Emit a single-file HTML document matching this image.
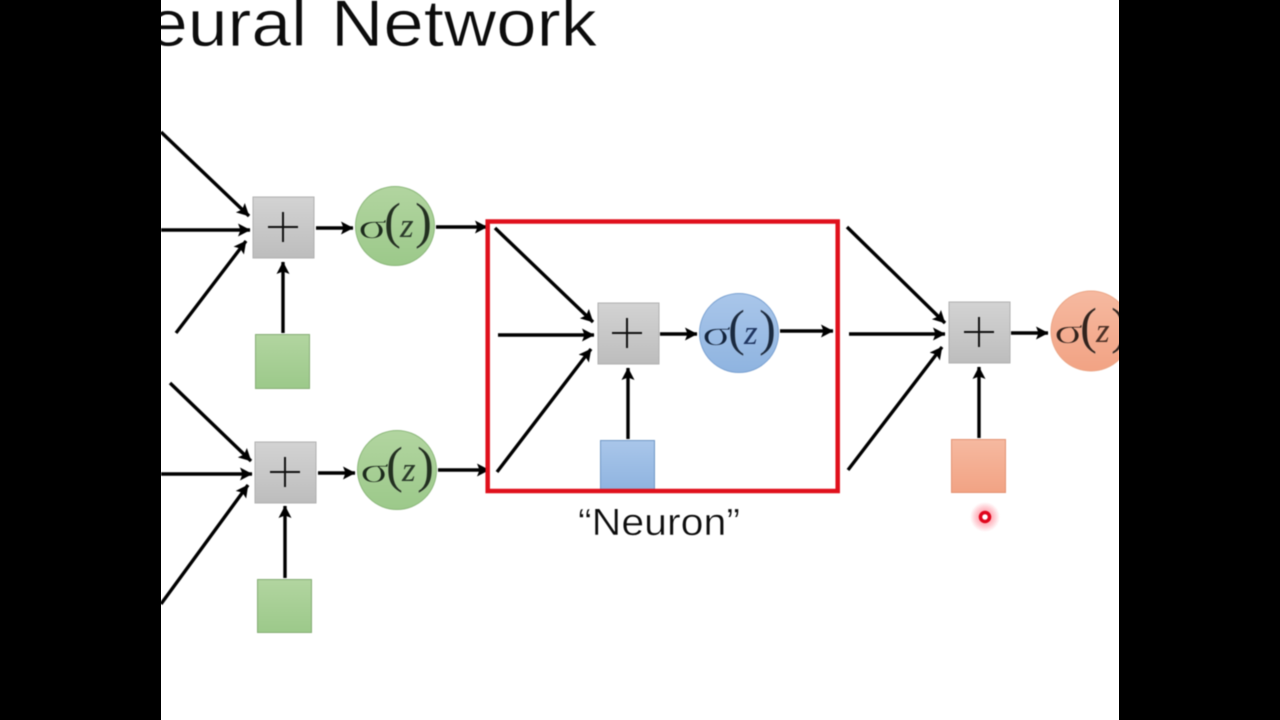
<!DOCTYPE html>
<html>
<head>
<meta charset="utf-8">
<style>
html,body{margin:0;padding:0;background:#000;width:1280px;height:720px;overflow:hidden}
svg{display:block}
.sig{font-family:"Liberation Serif",serif;font-size:36px;fill:#1c2a1c;stroke:#a8d096;stroke-width:.7}
.par{font-family:"Liberation Serif",serif;font-size:51px;fill:#22301f;stroke:#fff;stroke-opacity:.25;stroke-width:.4}
.z{font-family:"Liberation Serif",serif;font-size:35px;font-style:italic;fill:#2a3a2a}
.soft{filter:blur(.4px)}
</style>
</head>
<body>
<svg width="1280" height="720" viewBox="0 0 1280 720" xmlns="http://www.w3.org/2000/svg">
<defs>
<linearGradient id="gray" x1="0" y1="0" x2="0" y2="1"><stop offset="0" stop-color="#d3d3d3"/><stop offset="1" stop-color="#bdbdbd"/></linearGradient>
<linearGradient id="green" x1="0" y1="0" x2="0" y2="1"><stop offset="0" stop-color="#b2d5a0"/><stop offset="1" stop-color="#9cc98a"/></linearGradient>
<linearGradient id="blue" x1="0" y1="0" x2="0" y2="1"><stop offset="0" stop-color="#a9c6ea"/><stop offset="1" stop-color="#8fb4e0"/></linearGradient>
<linearGradient id="orange" x1="0" y1="0" x2="0" y2="1"><stop offset="0" stop-color="#f6b9a0"/><stop offset="1" stop-color="#f2a384"/></linearGradient>
<radialGradient id="glow"><stop offset="0" stop-color="#ff5060" stop-opacity=".8"/><stop offset=".6" stop-color="#ff8090" stop-opacity=".45"/><stop offset="1" stop-color="#ff8090" stop-opacity="0"/></radialGradient>
<marker id="ah" markerUnits="userSpaceOnUse" markerWidth="14" markerHeight="14" refX="12" refY="6.500" orient="auto"><path d="M0,0 L12.500,6.500 L0,13 L2.500,6.500 Z" fill="#000"/></marker>
<clipPath id="slide"><rect x="161" y="0" width="958" height="720"/></clipPath>
<g id="plus"><path d="M-15,0 H15 M0,-15 V15" stroke="#111" stroke-width="2" fill="none"/></g>
</defs>
<rect x="161" y="0" width="958" height="720" fill="#fff"/>
<g clip-path="url(#slide)">
<g class="soft">
<g font-family="Liberation Sans, sans-serif" font-size="66" fill="#0c0c0c" stroke="#fff" stroke-width=".7">
<text x="148" y="46" textLength="159" lengthAdjust="spacingAndGlyphs">eural</text>
<text x="331" y="46" textLength="266" lengthAdjust="spacingAndGlyphs">Network</text>
</g>

<!-- arrows -->
<g stroke="#000" stroke-width="3.400" fill="none">
<line x1="161" y1="132" x2="249" y2="216" marker-end="url(#ah)"/>
<line x1="161" y1="230" x2="250" y2="230" marker-end="url(#ah)"/>
<line x1="176" y1="333" x2="246" y2="241" marker-end="url(#ah)"/>
<line x1="283" y1="333" x2="283" y2="262" marker-end="url(#ah)"/>
<line x1="316" y1="228" x2="353" y2="228" marker-end="url(#ah)"/>
<line x1="436" y1="227" x2="487" y2="227" marker-end="url(#ah)"/>

<line x1="170" y1="383" x2="251" y2="461" marker-end="url(#ah)"/>
<line x1="161" y1="474" x2="252" y2="474" marker-end="url(#ah)"/>
<line x1="161" y1="604" x2="248" y2="485" marker-end="url(#ah)"/>
<line x1="285" y1="578" x2="285" y2="506" marker-end="url(#ah)"/>
<line x1="318" y1="473" x2="355" y2="473" marker-end="url(#ah)"/>
<line x1="438" y1="470" x2="489" y2="470" marker-end="url(#ah)"/>

<line x1="495" y1="228" x2="593" y2="322" marker-end="url(#ah)"/>
<line x1="498" y1="335" x2="594" y2="335" marker-end="url(#ah)"/>
<line x1="497" y1="472" x2="591" y2="349" marker-end="url(#ah)"/>
<line x1="628" y1="439" x2="628" y2="368" marker-end="url(#ah)"/>
<line x1="660" y1="334" x2="697" y2="334" marker-end="url(#ah)"/>
<line x1="780" y1="331" x2="833" y2="331" marker-end="url(#ah)"/>

<line x1="847" y1="227" x2="945" y2="323" marker-end="url(#ah)"/>
<line x1="849" y1="334" x2="945" y2="334" marker-end="url(#ah)"/>
<line x1="848" y1="470" x2="942" y2="347" marker-end="url(#ah)"/>
<line x1="979" y1="438" x2="979" y2="367" marker-end="url(#ah)"/>
<line x1="1011" y1="333" x2="1048" y2="333" marker-end="url(#ah)"/>
</g>

<!-- sum boxes -->
<rect x="253" y="197" width="61" height="61" fill="url(#gray)" stroke="#b0b0b0"/>
<use href="#plus" x="283" y="227"/>
<rect x="255" y="442" width="61" height="61" fill="url(#gray)" stroke="#b0b0b0"/>
<use href="#plus" x="285" y="472"/>
<rect x="598" y="303" width="61" height="61" fill="url(#gray)" stroke="#b0b0b0"/>
<use href="#plus" x="627" y="333"/>
<rect x="949" y="302" width="61" height="61" fill="url(#gray)" stroke="#b0b0b0"/>
<use href="#plus" x="979" y="332"/>

<!-- bias squares -->
<rect x="255.500" y="334.500" width="54" height="54" fill="url(#green)" stroke="#86ad76"/>
<rect x="257.500" y="579.500" width="54" height="53" fill="url(#green)" stroke="#86ad76"/>
<rect x="600.500" y="440.500" width="54" height="50" fill="url(#blue)" stroke="#6f97c6"/>
<rect x="951.500" y="439.500" width="54" height="53" fill="url(#orange)" stroke="#e39373"/>

<!-- activation circles -->
<circle cx="395" cy="226" r="39.500" fill="url(#green)" stroke="#8cb87b"/>
<circle cx="397" cy="470" r="39.500" fill="url(#green)" stroke="#8cb87b"/>
<circle cx="739" cy="333" r="39.500" fill="url(#blue)" stroke="#7ba2d2"/>
<circle cx="1091" cy="331" r="40" fill="url(#orange)" stroke="#eba585"/>

<!-- sigma(z) labels -->
<g>
<text class="sig" transform="translate(358 238) scale(1.5 1)">σ</text><text class="par" x="384" y="238">(</text><text class="z" x="400" y="237">z</text><text class="par" x="415" y="238">)</text>
<text class="sig" transform="translate(360 482) scale(1.5 1)">σ</text><text class="par" x="386" y="482">(</text><text class="z" x="402" y="481">z</text><text class="par" x="417" y="482">)</text>
<text class="sig" transform="translate(702 345) scale(1.5 1)" style="fill:#14243c;stroke:#9cbde5">σ</text><text class="par" x="728" y="345" style="fill:#1a2a40">(</text><text class="z" x="744" y="344" style="fill:#1f3560">z</text><text class="par" x="759" y="345" style="fill:#1a2a40">)</text>
<text class="sig" transform="translate(1054 343) scale(1.5 1)" style="fill:#33231c;stroke:#f4ad91">σ</text><text class="par" x="1080" y="343" style="fill:#33231c">(</text><text class="z" x="1096" y="342" style="fill:#4a2f25">z</text><text class="par" x="1111" y="343" style="fill:#33231c">)</text>
</g>

<!-- red frame -->
<rect x="487.700" y="221.500" width="350" height="269.500" fill="none" stroke="#e0101c" stroke-width="4.500"/>

<text x="578" y="535" font-family="Liberation Sans, sans-serif" font-size="38" fill="#0c0c0c" stroke="#fff" stroke-width=".5" textLength="162" lengthAdjust="spacingAndGlyphs">“Neuron”</text>

<!-- pointer -->
<circle cx="985" cy="517" r="15" fill="url(#glow)"/>
<circle cx="985" cy="517" r="4.500" fill="#fff" stroke="#e0061c" stroke-width="3.500"/>
</g>
</g>
</svg>
</body>
</html>
